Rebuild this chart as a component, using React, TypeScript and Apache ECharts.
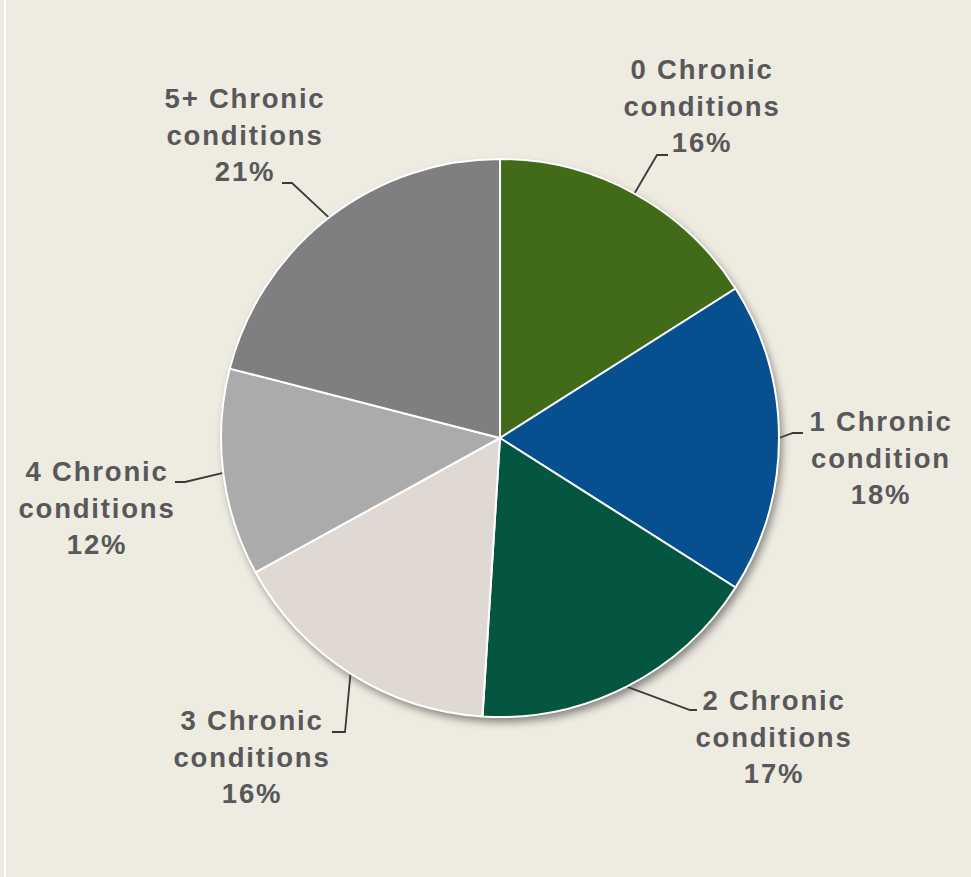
import React, { useEffect, useRef } from 'react';
import * as echarts from 'echarts';

// ---- data ----
const categories = [
  '0 Chronic\nconditions',
  '1 Chronic\ncondition',
  '2 Chronic\nconditions',
  '3 Chronic\nconditions',
  '4 Chronic\nconditions',
  '5+ Chronic\nconditions',
];
const values = [16, 18, 17, 16, 12, 21];
const colors = ['#416B19', '#07508F', '#045641', '#E0D9D3', '#ABABAB', '#7F7F81'];

// ---- label layout (text placement, not data) ----
const labelCenters = [[702, 106], [881, 458], [774, 737], [252, 757], [97, 508], [245, 135]];
const lineElbows = [[657, 155], [793, 433], [690, 710], [345, 732], [185, 482], [292, 183]];
const lineEnds = [[668, 155], [803, 433], [697, 710], [332, 732], [175, 482], [282, 183]];

const W = 971;
const H = 877;
const CX = 500;
const CY = 438;
const R = 279;

export default function App() {
  const ref = useRef<HTMLDivElement>(null);
  useEffect(() => {
    if (!ref.current) return;
    const chart = echarts.init(ref.current, undefined, { renderer: 'svg' });
    const total = values.reduce((a, b) => a + b, 0);
    const edgePoint = (i: number) => {
      let cum = 0;
      for (let k = 0; k < i; k++) cum += values[k];
      const mid = ((cum + values[i] / 2) / total) * Math.PI * 2;
      return [CX + R * Math.sin(mid), CY - R * Math.cos(mid)];
    };
    chart.setOption({
      animation: false,
      backgroundColor: '#EEEBE1',
      graphic: [
        { type: 'rect', shape: { x: 4, y: 0, width: 2, height: H }, style: { fill: '#FFFFFF' }, silent: true },
      ],
      series: [
        {
          type: 'pie',
          silent: true,
          center: [CX, CY],
          radius: R,
          z: 1,
          label: { show: false },
          labelLine: { show: false },
          itemStyle: {
            color: '#EEEBE1',
            shadowBlur: 9,
            shadowOffsetX: 3,
            shadowOffsetY: 5,
            shadowColor: 'rgba(0,0,0,0.45)',
          },
          data: [{ value: 1, name: 'shadow' }],
        },
        {
          type: 'pie',
          silent: true,
          center: [CX, CY],
          radius: R,
          startAngle: 90,
          clockwise: true,
          z: 2,
          itemStyle: { borderColor: '#FFFFFF', borderWidth: 2 },
          label: {
            show: true,
            position: 'outside',
            formatter: (p: any) => `${p.name}\n${p.value}%`,
            fontFamily: 'Liberation Sans, Arial, sans-serif',
            fontWeight: 'bold',
            fontSize: 27.5,
            lineHeight: 36.5,
            color: '#58585A',
            align: 'center',
          },
          labelLine: {
            show: true,
            smooth: false,
            lineStyle: { color: '#3A3A3A', width: 1.8 },
          },
          labelLayout: (params: any) => {
            const i = params.dataIndex;
            return {
              x: labelCenters[i][0],
              y: labelCenters[i][1],
              align: 'center',
              verticalAlign: 'middle',
              labelLinePoints: [edgePoint(i), lineElbows[i], lineEnds[i]],
            };
          },
          data: categories.map((name, i) => ({
            name,
            value: values[i],
            itemStyle: { color: colors[i] },
          })),
        },
      ],
    });
    return () => chart.dispose();
  }, []);
  return (
    <div
      ref={ref}
      style={{ position: 'absolute', left: 0, top: 0, width: W, height: H, letterSpacing: '1.8px' }}
    />
  );
}
